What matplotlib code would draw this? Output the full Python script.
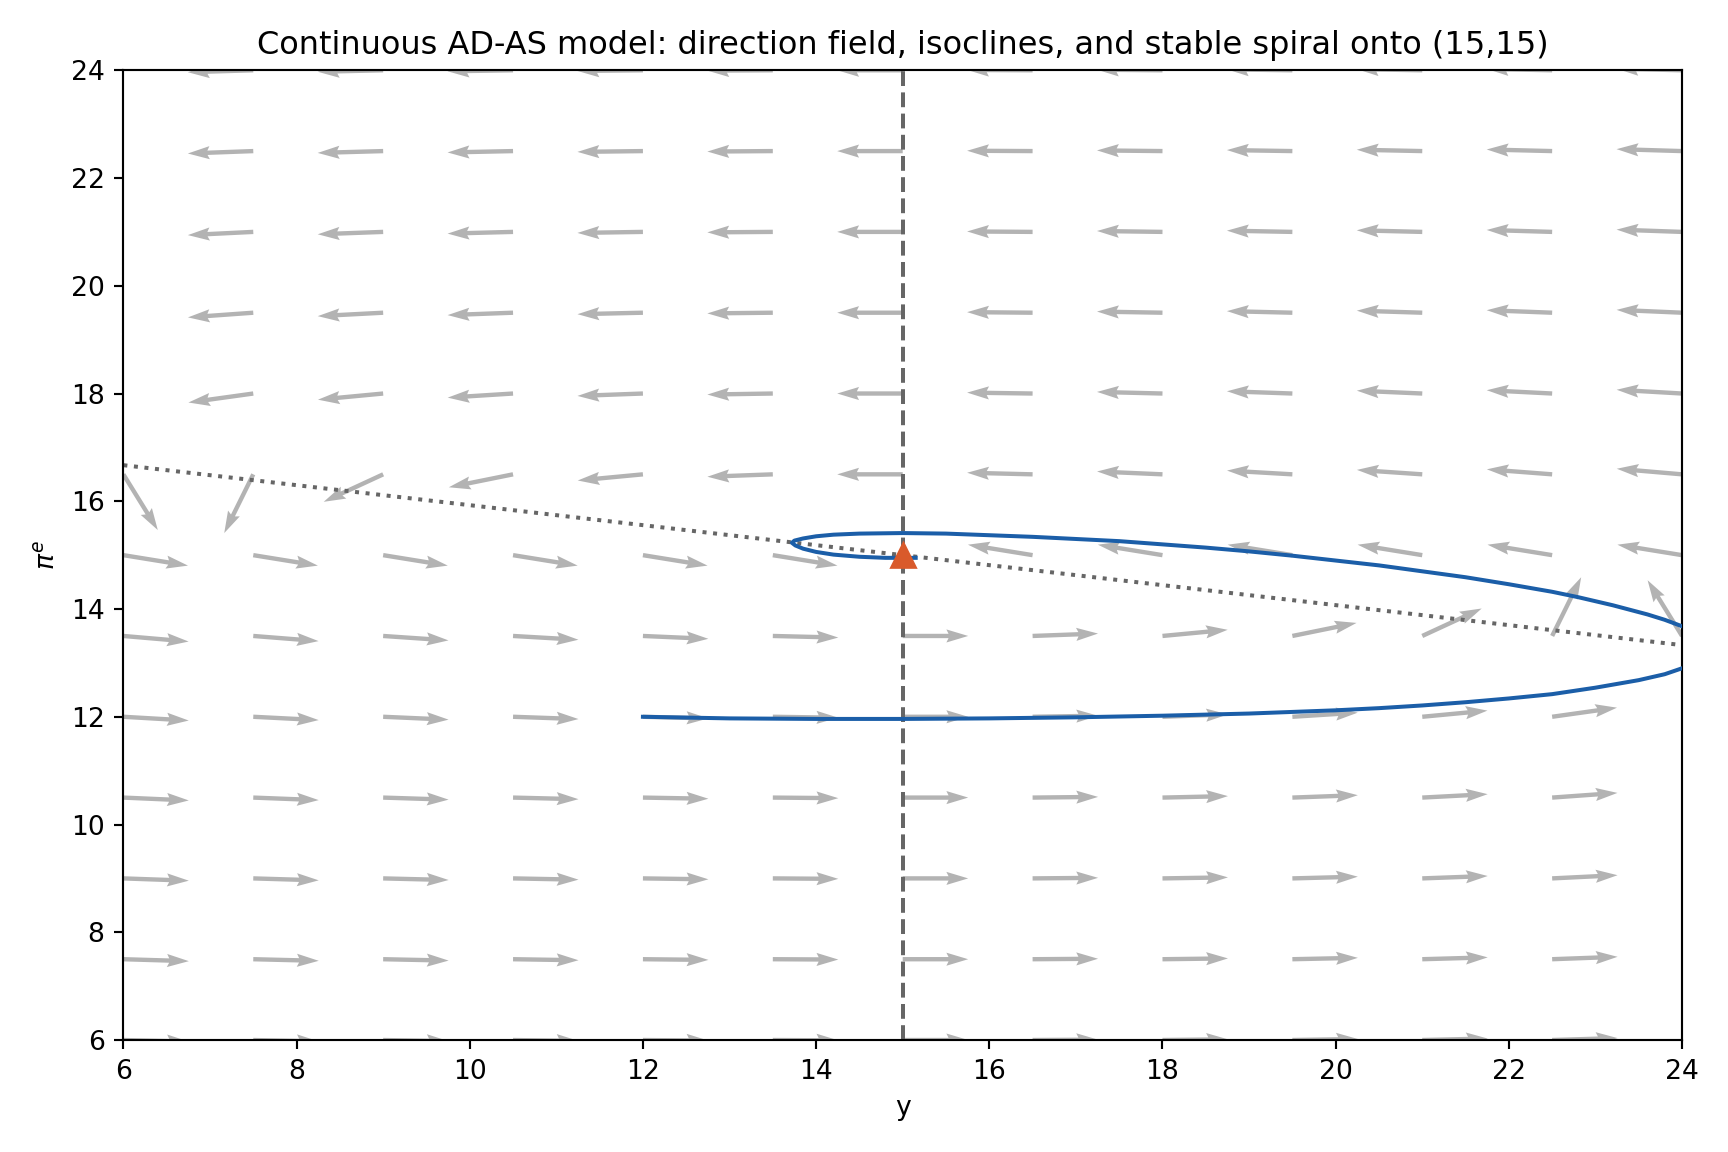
import numpy as np
import matplotlib
matplotlib.use("Agg")
import matplotlib.pyplot as plt

# grid of the direction field (output y, expected inflation pi^e)
grid_y = [6, 7.5, 9, 10.5, 12, 13.5, 15, 16.5, 18, 19.5, 21, 22.5, 24]
grid_pi = [6, 7.5, 9, 10.5, 12, 13.5, 15, 16.5, 18, 19.5, 21, 22.5, 24]

# arrow direction (degrees on screen), one row per pi^e value, columns follow grid_y
nan = float("nan")
arrow_deg = [
    [-1.4, -1.2, -1.0, -0.8, -0.5, -0.3, 0.0, 0.3, 0.6, 0.9, 1.3, 1.7, 2.1],
    [-1.7, -1.4, -1.2, -0.9, -0.6, -0.3, 0.0, 0.4, 0.7, 1.2, 1.6, 2.1, 2.7],
    [-2.0, -1.7, -1.4, -1.1, -0.8, -0.4, 0.0, 0.5, 0.9, 1.5, 2.1, 2.8, 3.6],
    [-2.5, -2.2, -1.8, -1.4, -1.0, -0.5, 0.0, 0.6, 1.3, 2.1, 3.0, 4.1, 5.4],
    [-3.3, -2.9, -2.5, -2.0, -1.4, -0.8, 0.0, 0.9, 2.1, 3.6, 5.4, 8.0, 11.5],
    [-4.9, -4.5, -3.9, -3.3, -2.5, -1.4, 0.0, 2.1, 5.4, 11.5, 24.8, 63.7, 121.7],
    [-9.2, -9.2, -9.2, -9.2, -9.2, -9.2, nan, 170.8, 170.8, 170.8, 170.8, 170.8, 170.8],
    [-58.3, -116.3, -155.2, -168.6, -174.6, -177.9, 180.0, 178.6, 177.5, 176.7, 176.1, 175.6, 175.1],
    [-168.6, -172.1, -174.6, -176.4, -177.9, -179.1, 180.0, 179.2, 178.6, 178.0, 177.5, 177.1, 176.7],
    [-174.6, -175.9, -177.0, -177.9, -178.7, -179.4, 180.0, 179.5, 179.0, 178.6, 178.2, 177.8, 177.5],
    [-176.4, -177.2, -177.9, -178.5, -179.1, -179.6, 180.0, 179.6, 179.2, 178.9, 178.6, 178.3, 178.0],
    [-177.4, -177.9, -178.4, -178.8, -179.3, -179.6, 180.0, 179.7, 179.4, 179.1, 178.8, 178.6, 178.3],
    [-177.9, -178.3, -178.7, -179.1, -179.4, -179.7, 180.0, 179.7, 179.5, 179.2, 179.0, 178.8, 178.6],
]

# isoclines
y_star = 15
pi_star = 15
dy_zero_y = [6, 24]
dy_zero_pi = [16.67, 13.33]

# trajectory (starts at (12,12), spirals into (15,15))
traj_y = [12, 13, 14, 15, 16, 17, 18, 19, 20, 20.5, 21, 21.5, 22, 22.5, 23, 23.5, 23.8, 24,
          24.2, 24.32, 24.38, 24.36, 24.25, 24.12, 24, 23.8, 23.6, 23.2, 22.8, 22.5, 22,
          21.5, 21, 20.5, 20, 19.5, 19, 18.5, 18, 17.5, 17, 16.5, 16, 15.5, 15, 14.5,
          14.2, 14.0, 13.85, 13.75, 13.72, 13.76, 13.85, 14.0, 14.2, 14.5, 14.8, 15.15]
traj_pi = [12.0, 11.97, 11.96, 11.96, 11.97, 11.99, 12.02, 12.06, 12.12, 12.16, 12.21,
           12.27, 12.34, 12.42, 12.54, 12.68, 12.79, 12.9, 13.01, 13.12, 13.27, 13.41,
           13.53, 13.61, 13.68, 13.8, 13.9, 14.07, 14.22, 14.32, 14.46, 14.59, 14.7,
           14.81, 14.9, 14.99, 15.07, 15.14, 15.2, 15.26, 15.3, 15.34, 15.37, 15.4,
           15.41, 15.4, 15.38, 15.35, 15.31, 15.27, 15.23, 15.18, 15.12, 15.06, 15.01,
           14.97, 14.95, 14.95]

fig, ax = plt.subplots(figsize=(9, 6), dpi=192)

Y, P = np.meshgrid(grid_y, grid_pi)
ang = np.radians(np.array(arrow_deg))
ax.quiver(Y, P, np.cos(ang), np.sin(ang), color="0.7", scale=23.8, width=0.0028, zorder=1)

ax.axvline(y_star, color="0.4", linestyle="--", linewidth=1.5, zorder=2)
ax.plot(dy_zero_y, dy_zero_pi, color="0.4", linestyle=":", linewidth=1.5, zorder=2)
ax.plot(traj_y, traj_pi, color="#1b5ea8", linewidth=1.5, zorder=3)
ax.plot([y_star], [pi_star], marker="^", markersize=9, color="#d95a2b", zorder=4)

ax.set_xlim(6, 24)
ax.set_ylim(6, 24)
ax.set_xlabel("y")
ax.set_ylabel(r"$\pi^e$")
ax.set_title("Continuous AD-AS model: direction field, isoclines, and stable spiral onto (15,15)")

fig.subplots_adjust(left=0.0714, right=0.9734, bottom=0.0972, top=0.939)
fig.savefig("out.png", dpi=192)
